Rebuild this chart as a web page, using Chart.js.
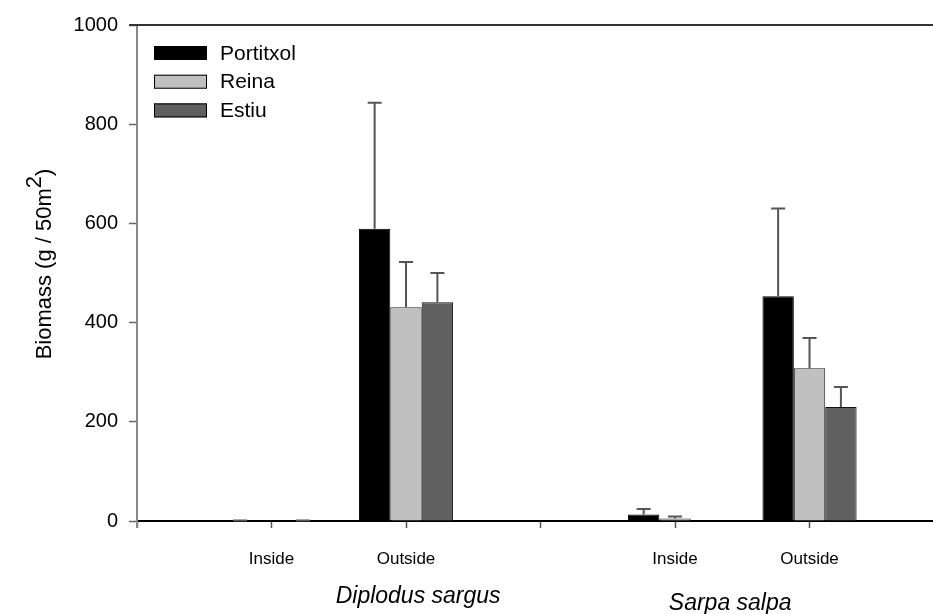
<!DOCTYPE html>
<html>
<head>
<meta charset="utf-8">
<script src="https://cdn.jsdelivr.net/npm/chart.js@4/dist/chart.umd.min.js"></script>
<style>
  html, body { margin: 0; padding: 0; background: #fff; }
  #box { width: 933px; height: 614px; }
</style>
</head>
<body>
<div id="box"><canvas id="grafico" width="933" height="614"></canvas></div>
<script>
// posizioni sull'asse x (1,2 = Diplodus; 4,5 = Sarpa)
var posizioni = [1, 2, 4, 5];
var etichette_x = ['', 'Inside', 'Outside', '', 'Inside', 'Outside'];
var siti = ['Portitxol', 'Reina', 'Estiu'];
var specie = ['Diplodus sargus', 'Sarpa salpa'];

var portitxol = [0, 589, 13, 453];
var portitxol_err = [1, 254, 11, 177];
var reina = [0, 431, 5, 308];
var reina_err = [0, 91, 4, 61];
var estiu = [0, 441, 0, 230];
var estiu_err = [1, 59, 0, 40];

var tick_y = [0, 200, 400, 600, 800, 1000];

var FONT = "'Liberation Sans', Arial, sans-serif";

function punti(valori) {
  var out = [];
  for (var i = 0; i < posizioni.length; i++) {
    out.push({x: posizioni[i], y: valori[i]});
  }
  return out;
}

// barre di errore (solo verso l'alto, con cappello)
var erroriPlugin = {
  id: 'errori',
  afterDatasetsDraw: function(chart) {
    var ctx = chart.ctx;
    var y = chart.scales.y;
    ctx.save();
    ctx.strokeStyle = '#555';
    ctx.lineWidth = 2;
    chart.data.datasets.forEach(function(ds, i) {
      var meta = chart.getDatasetMeta(i);
      meta.data.forEach(function(el, j) {
        var err = ds.errori[j];
        if (!err) return;
        var top = y.getPixelForValue(ds.data[j].y + err);
        ctx.beginPath();
        ctx.moveTo(el.x, el.y);
        ctx.lineTo(el.x, top);
        ctx.moveTo(el.x - 7, top);
        ctx.lineTo(el.x + 7, top);
        ctx.stroke();
      });
    });
    ctx.restore();
  }
};

// legenda, titolo asse y, nomi delle specie, bordo superiore
var decorPlugin = {
  id: 'decor',
  afterDraw: function(chart) {
    var ctx = chart.ctx;
    var area = chart.chartArea;
    var x = chart.scales.x;
    ctx.save();

    // bordo superiore
    ctx.strokeStyle = '#333';
    ctx.lineWidth = 2;
    ctx.beginPath();
    ctx.moveTo(129, area.top);
    ctx.lineTo(area.right, area.top);
    ctx.stroke();

    // l'asse y scende un poco sotto lo zero
    ctx.strokeStyle = '#888';
    ctx.beginPath();
    ctx.moveTo(area.left, area.bottom);
    ctx.lineTo(area.left, area.bottom + 7);
    ctx.stroke();

    // legenda
    ctx.font = '21px ' + FONT;
    ctx.textBaseline = 'middle';
    ctx.textAlign = 'left';
    chart.data.datasets.forEach(function(ds, i) {
      var ty = 46 + i * 28.7;
      ctx.fillStyle = ds.backgroundColor;
      ctx.fillRect(154, ty, 53, 14);
      ctx.strokeStyle = '#000';
      ctx.lineWidth = 1;
      ctx.strokeRect(154.5, ty + 0.5, 52, 13);
      ctx.fillStyle = '#000';
      ctx.fillText(ds.label, 220, ty + 8);
    });

    // titolo asse y con apice
    ctx.translate(51, 264);
    ctx.rotate(-Math.PI / 2);
    ctx.font = '22px ' + FONT;
    ctx.textBaseline = 'alphabetic';
    var t1 = 'Biomass (g / 50m';
    var t2 = '2';
    var t3 = ')';
    var w1 = ctx.measureText(t1).width;
    var w2 = ctx.measureText(t2).width;
    var w3 = ctx.measureText(t3).width;
    var sx = -(w1 + w2 + w3) / 2;
    ctx.fillText(t1, sx, 0);
    ctx.fillText(t2, sx + w1, -10);
    ctx.fillText(t3, sx + w1 + w2, 0);
    ctx.setTransform(1, 0, 0, 1, 0, 0);

    // nomi delle specie
    ctx.font = 'italic 23px ' + FONT;
    ctx.textAlign = 'center';
    ctx.fillText(specie[0], x.getPixelForValue(2.09), 603);
    ctx.fillText(specie[1], x.getPixelForValue(4.41), 610);

    ctx.restore();
  }
};

var grafico = new Chart(document.getElementById('grafico'), {
  type: 'bar',
  data: {
    datasets: [
      {label: siti[0], data: punti(portitxol), errori: portitxol_err,
       backgroundColor: '#000000', borderColor: '#000000', borderWidth: 1},
      {label: siti[1], data: punti(reina), errori: reina_err,
       backgroundColor: '#c0c0c0', borderColor: '#222', borderWidth: 1},
      {label: siti[2], data: punti(estiu), errori: estiu_err,
       backgroundColor: '#606060', borderColor: '#111', borderWidth: 1}
    ]
  },
  options: {
    responsive: false,
    animation: false,
    devicePixelRatio: 1,
    categoryPercentage: 0.7,
    barPercentage: 1.0,
    layout: {padding: {top: 25, right: 0, left: 0, bottom: 0}},
    plugins: {
      legend: {display: false},
      tooltip: {enabled: false}
    },
    scales: {
      x: {
        type: 'linear',
        offset: false,
        min: 0,
        max: 5.918,
        afterFit: function(scale) { scale.height = 93; },
        ticks: {
          stepSize: 1,
          includeBounds: false,
          autoSkip: false,
          maxRotation: 0,
          padding: 21,
          color: '#000',
          font: {family: FONT, size: 17},
          callback: function(v) { return etichette_x[v] || ''; }
        },
        grid: {offset: false, drawOnChartArea: false, drawTicks: true, tickLength: 7, tickColor: '#555', tickWidth: 1.5},
        border: {color: '#000', width: 2}
      },
      y: {
        min: 0,
        max: 1000,
        afterFit: function(scale) { scale.width = 137; },
        afterBuildTicks: function(scale) {
          scale.ticks = tick_y.map(function(v) { return {value: v}; });
        },
        ticks: {
          padding: 11,
          color: '#000',
          font: {family: FONT, size: 20},
          callback: function(v) { return String(v); }
        },
        grid: {drawOnChartArea: false, drawTicks: true, tickLength: 8, tickColor: '#666', tickWidth: 1.5},
        border: {color: '#888', width: 2}
      }
    }
  },
  plugins: [erroriPlugin, decorPlugin]
});
</script>
</body>
</html>
